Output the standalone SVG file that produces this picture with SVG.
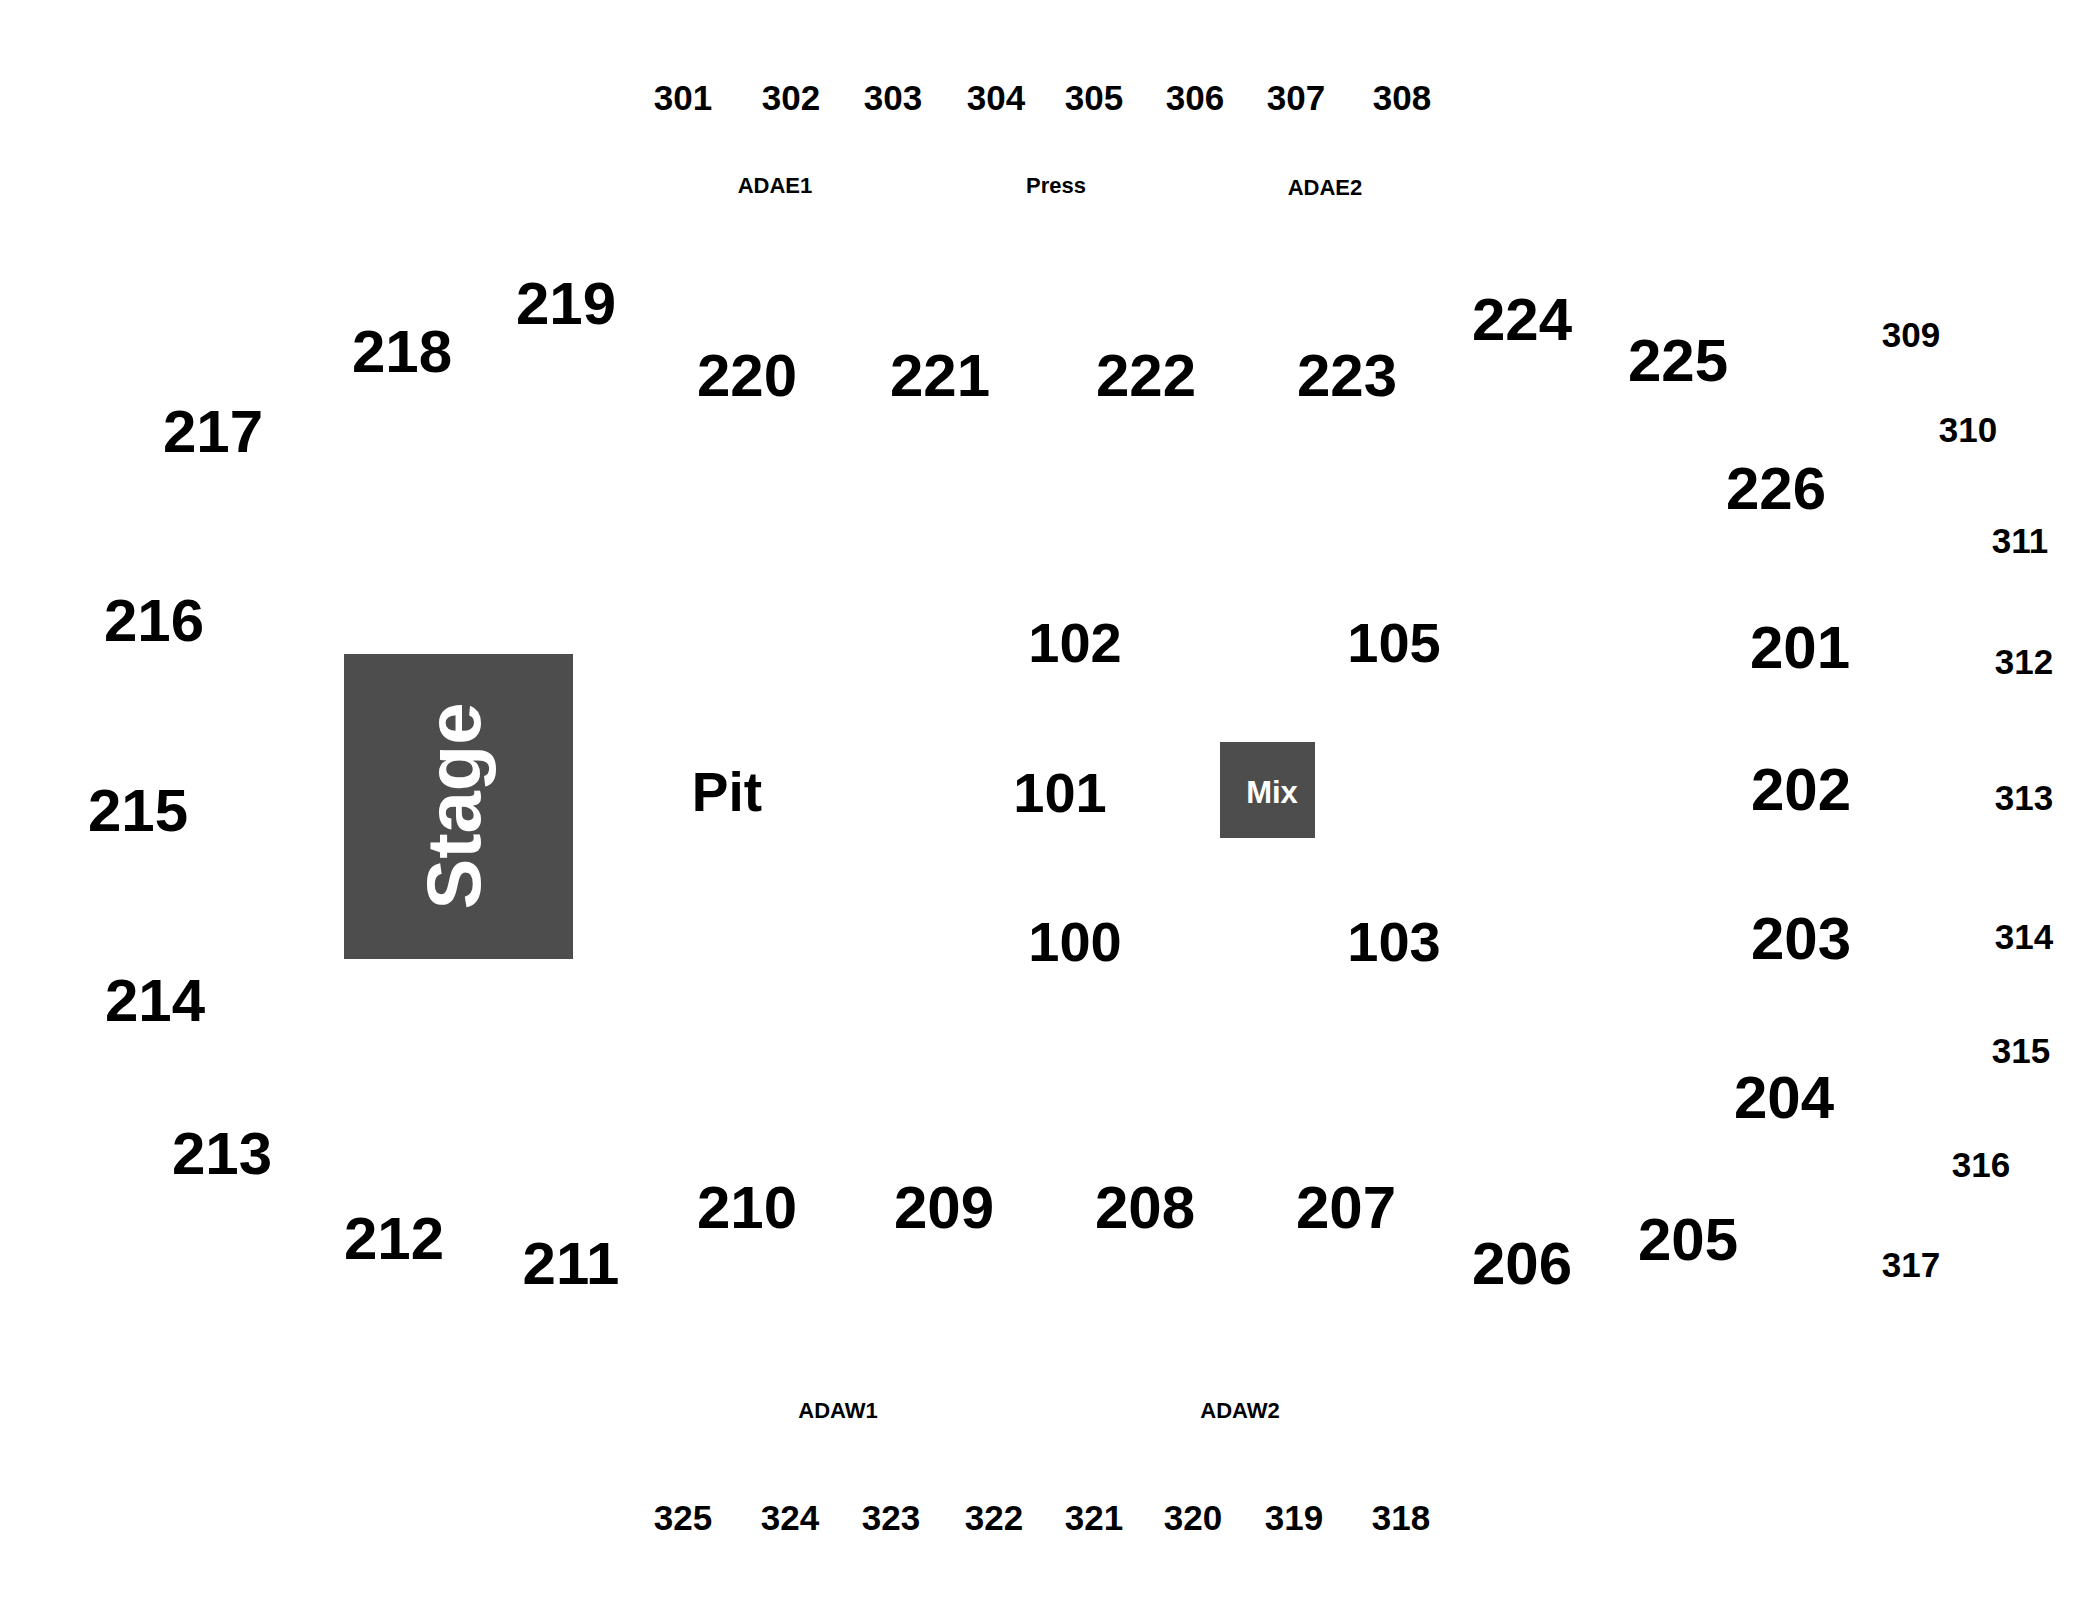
<svg xmlns="http://www.w3.org/2000/svg" width="2100" height="1600" viewBox="0 0 2100 1600">
<style>
text{font-family:"Liberation Sans",Arial,sans-serif;font-weight:bold;text-anchor:middle;fill:#000}
.s2{font-size:60px}
.s1{font-size:56px}
.s3{font-size:35px}
.sa{font-size:22px}
.blk{fill:#4d4d4d}
.wt{fill:#fff}
</style>
<rect width="2100" height="1600" fill="#fff"/>
<g id="stage"><rect class="blk" x="344" y="654" width="229" height="305"/><text class="wt" transform="translate(480,806) rotate(-90)" style="font-size:76px">Stage</text></g>
<g id="mix"><rect class="blk" x="1220" y="742" width="95" height="96"/><text class="wt" x="1272" y="803" style="font-size:31px">Mix</text></g>
<g id="pit"><text x="727" y="811" style="font-size:55px">Pit</text></g>
<g id="floor">
<text class="s1" x="1075" y="662">102</text>
<text class="s1" x="1394" y="662">105</text>
<text class="s1" x="1060" y="812">101</text>
<text class="s1" x="1075" y="961">100</text>
<text class="s1" x="1394" y="961">103</text>
</g>
<g id="level200">
<text class="s2" x="1800" y="668">201</text>
<text class="s2" x="1801" y="810">202</text>
<text class="s2" x="1801" y="959">203</text>
<text class="s2" x="1784" y="1118">204</text>
<text class="s2" x="1688" y="1260">205</text>
<text class="s2" x="1522" y="1284">206</text>
<text class="s2" x="1346" y="1228">207</text>
<text class="s2" x="1145" y="1228">208</text>
<text class="s2" x="944" y="1228">209</text>
<text class="s2" x="747" y="1228">210</text>
<text class="s2" x="571" y="1284">211</text>
<text class="s2" x="394" y="1259">212</text>
<text class="s2" x="222" y="1174">213</text>
<text class="s2" x="155" y="1021">214</text>
<text class="s2" x="138" y="831">215</text>
<text class="s2" x="154" y="641">216</text>
<text class="s2" x="213" y="452">217</text>
<text class="s2" x="402" y="372">218</text>
<text class="s2" x="566" y="324">219</text>
<text class="s2" x="747" y="396">220</text>
<text class="s2" x="940" y="396">221</text>
<text class="s2" x="1146" y="396">222</text>
<text class="s2" x="1347" y="396">223</text>
<text class="s2" x="1522" y="340">224</text>
<text class="s2" x="1678" y="381">225</text>
<text class="s2" x="1776" y="509">226</text>
</g>
<g id="level300">
<text class="s3" x="683" y="110">301</text>
<text class="s3" x="791" y="110">302</text>
<text class="s3" x="893" y="110">303</text>
<text class="s3" x="996" y="110">304</text>
<text class="s3" x="1094" y="110">305</text>
<text class="s3" x="1195" y="110">306</text>
<text class="s3" x="1296" y="110">307</text>
<text class="s3" x="1402" y="110">308</text>
<text class="s3" x="1911" y="347">309</text>
<text class="s3" x="1968" y="442">310</text>
<text class="s3" x="2020" y="553">311</text>
<text class="s3" x="2024" y="674">312</text>
<text class="s3" x="2024" y="810">313</text>
<text class="s3" x="2024" y="949">314</text>
<text class="s3" x="2021" y="1063">315</text>
<text class="s3" x="1981" y="1177">316</text>
<text class="s3" x="1911" y="1277">317</text>
<text class="s3" x="1401" y="1530">318</text>
<text class="s3" x="1294" y="1530">319</text>
<text class="s3" x="1193" y="1530">320</text>
<text class="s3" x="1094" y="1530">321</text>
<text class="s3" x="994" y="1530">322</text>
<text class="s3" x="891" y="1530">323</text>
<text class="s3" x="790" y="1530">324</text>
<text class="s3" x="683" y="1530">325</text>
</g>
<g id="special">
<text class="sa" x="775" y="193">ADAE1</text>
<text class="sa" x="1056" y="193">Press</text>
<text class="sa" x="1325" y="195">ADAE2</text>
<text class="sa" x="838" y="1418">ADAW1</text>
<text class="sa" x="1240" y="1418">ADAW2</text>
</g>
<g id="connectors"></g>
</svg>
